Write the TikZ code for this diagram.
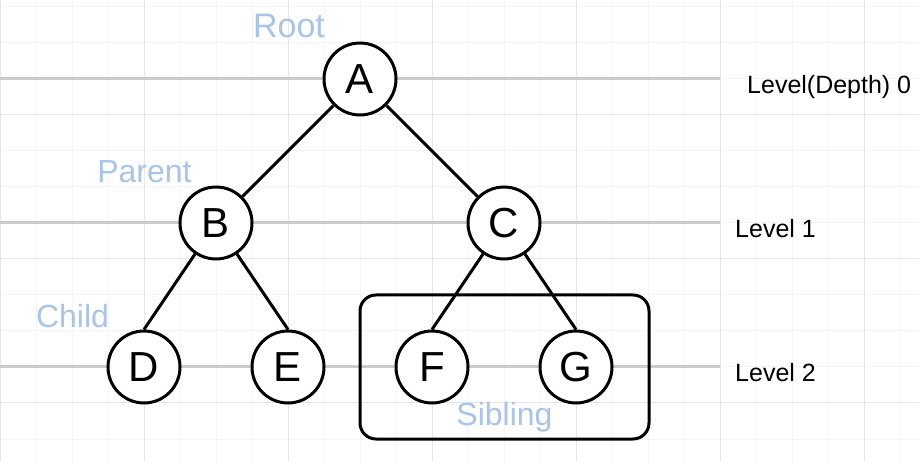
\documentclass[tikz,border=0pt]{standalone}
\usepackage{fontspec}
\setmainfont{Liberation Sans}
\definecolor{gridminor}{HTML}{F5F5F5}
\definecolor{gridmajor}{HTML}{E6E6E6}
\definecolor{levelline}{HTML}{CCCCCC}
\definecolor{tagblue}{HTML}{A9C4EB}
\begin{document}
\begin{tikzpicture}[x=1pt,y=-1pt,
  treenode/.style={circle,draw=black,fill=white,line width=3pt,minimum size=72pt,inner sep=0pt,
    font=\fontsize{42}{48}\selectfont},
  edge/.style={draw=black,line width=3pt},
  levelrule/.style={draw=levelline,line width=3pt},
  tag/.style={text=tagblue,inner sep=0pt,anchor=base,font=\fontsize{32}{38}\selectfont},
  leveltext/.style={text=black,inner sep=0pt,anchor=base west,font=\fontsize{25}{30}\selectfont}]
  \useasboundingbox (0,0) rectangle (919,462);
  \fill[white] (0,0) rectangle (919,462);

  % background grid
  \foreach \x in {36,72,...,919} \draw[gridminor,line width=1pt] (\x,0) -- (\x,462);
  \foreach \y in {7,43,...,462} \draw[gridminor,line width=1pt] (0,\y) -- (919,\y);
  \foreach \x in {0,144,...,919} \draw[gridmajor,line width=1pt] (\x,0) -- (\x,462);
  \foreach \y in {115,259,403} \draw[gridmajor,line width=1pt] (0,\y) -- (919,\y);

  % level rules
  \draw[levelrule] (0,79) -- (720,79);
  \draw[levelrule] (0,223) -- (720,223);
  \draw[levelrule] (0,367) -- (720,367);

  % tree nodes
  \node[treenode] (A) at (360,79) {A};
  \node[treenode] (B) at (216,223) {B};
  \node[treenode] (C) at (504,223) {C};
  \node[treenode] (D) at (144,367) {D};
  \node[treenode] (E) at (288,367) {E};
  \node[treenode] (F) at (432,367) {F};
  \node[treenode] (G) at (576,367) {G};

  % tree edges
  \draw[edge] (A) -- (B);
  \draw[edge] (A) -- (C);
  \draw[edge] (B) -- (D.north);
  \draw[edge] (B) -- (E.north);
  \draw[edge] (C) -- (F.north);
  \draw[edge] (C) -- (G.north);

  % sibling group frame
  \draw[black,line width=3pt,rounded corners=16pt] (360,295) rectangle (649,439);

  % role labels
  \node[tag,font=\fontsize{34}{40}\selectfont] (root) at (289,38) {Root};
  \node[tag] (parent) at (144.5,183) {Parent};
  \node[tag] (child) at (72.5,328) {Child};
  \node[tag] (sibling) at (504.5,425) {Sibling};

  % level labels
  \node[leveltext] (lv0) at (747,94) {Level(Depth) 0};
  \node[leveltext] (lv1) at (735,238) {Level 1};
  \node[leveltext] (lv2) at (735,382) {Level 2};
\end{tikzpicture}
\end{document}
